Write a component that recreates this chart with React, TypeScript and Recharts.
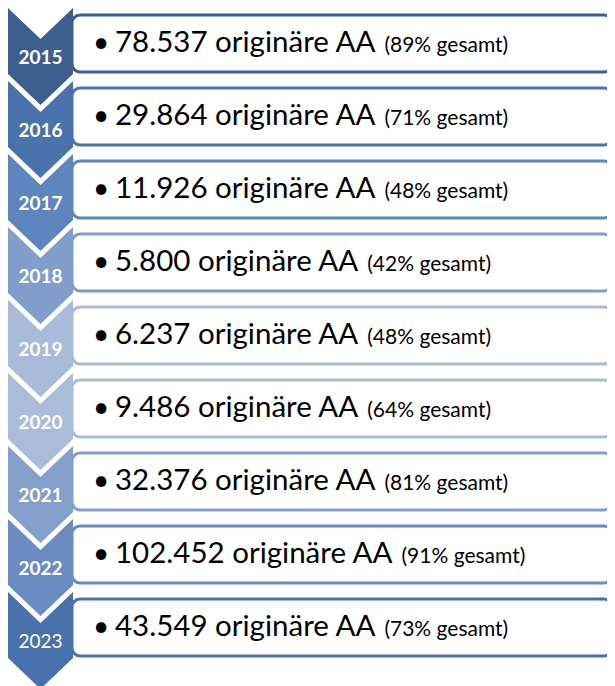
import { BarChart, Bar, XAxis, YAxis } from "recharts";

// Yearly figures: originäre AA and their share of the total
const years = ["2015", "2016", "2017", "2018", "2019", "2020", "2021", "2022", "2023"];
const originalCounts = [78537, 29864, 11926, 5800, 6237, 9486, 32376, 102452, 43549];
const sharePercent = [89, 71, 48, 42, 48, 64, 81, 91, 73];

// palette per row (chevron + box border)
const rowColors = ["#3D5F8E", "#4A73AB", "#5E85BE", "#819DC9", "#A9BBD9", "#ABBCDA", "#839FCA", "#6A8CC3", "#4A72AA"];
const boldYear = [true, true, true, true, true, true, true, true, false];

const FONT = "Lato, 'Open Sans', sans-serif";

const chartData = years.map((year, i) => ({
  year,
  count: originalCounts[i],
  share: sharePercent[i],
  row: 1,
}));

// 78537 -> "78.537"
function formatDe(n: number) {
  return String(n).replace(/\B(?=(\d{3})+(?!\d))/g, ".");
}

function RowShape(props: any) {
  const { x, y, width, index, payload } = props;
  const color = rowColors[index];
  const chevW = 65;
  const cx = x + chevW / 2;
  const notch = 31;
  const side = 66;
  const tip = 97;
  const boxX = x + chevW - 1;
  const boxY = y + 7;
  const boxW = width - chevW - 2;
  const boxH = 57;

  const chevron = [
    `M${x},${y}`,
    `L${cx},${y + notch}`,
    `L${x + chevW},${y}`,
    `L${x + chevW},${y + side}`,
    `L${cx},${y + tip}`,
    `L${x},${y + side}`,
    "Z",
  ].join(" ");

  return (
    <g>
      <path d={chevron} fill={color} />
      <text
        x={cx}
        y={y + 56}
        textAnchor="middle"
        fill="#ffffff"
        fontFamily={FONT}
        fontSize={19}
        fontWeight={boldYear[index] ? 700 : 400}
      >
        {payload.year}
      </text>
      <rect x={boxX} y={boxY} width={boxW} height={boxH} rx={8} ry={8} fill="#ffffff" stroke={color} strokeWidth={3} />
      <text x={boxX + 21} y={y + 44} fill="#000000" fontFamily={FONT} fontSize={28}>
        •
      </text>
      <text x={boxX + 43} y={y + 44} fill="#000000" fontFamily={FONT}>
        <tspan fontSize={29.5}>{`${formatDe(payload.count)} originäre AA`}</tspan>
        <tspan fontSize={21} dx={9}>{`(${payload.share}% gesamt)`}</tspan>
      </text>
    </g>
  );
}

export default function App() {
  return (
    <BarChart
      width={607}
      height={680}
      data={chartData}
      layout="vertical"
      barCategoryGap={0}
      margin={{ top: 0, right: 0, left: 0, bottom: 23 }}
    >
      <XAxis type="number" domain={[0, 1]} hide />
      <YAxis type="category" dataKey="year" hide />
      <Bar dataKey="row" shape={RowShape} isAnimationActive={false} />
    </BarChart>
  );
}
